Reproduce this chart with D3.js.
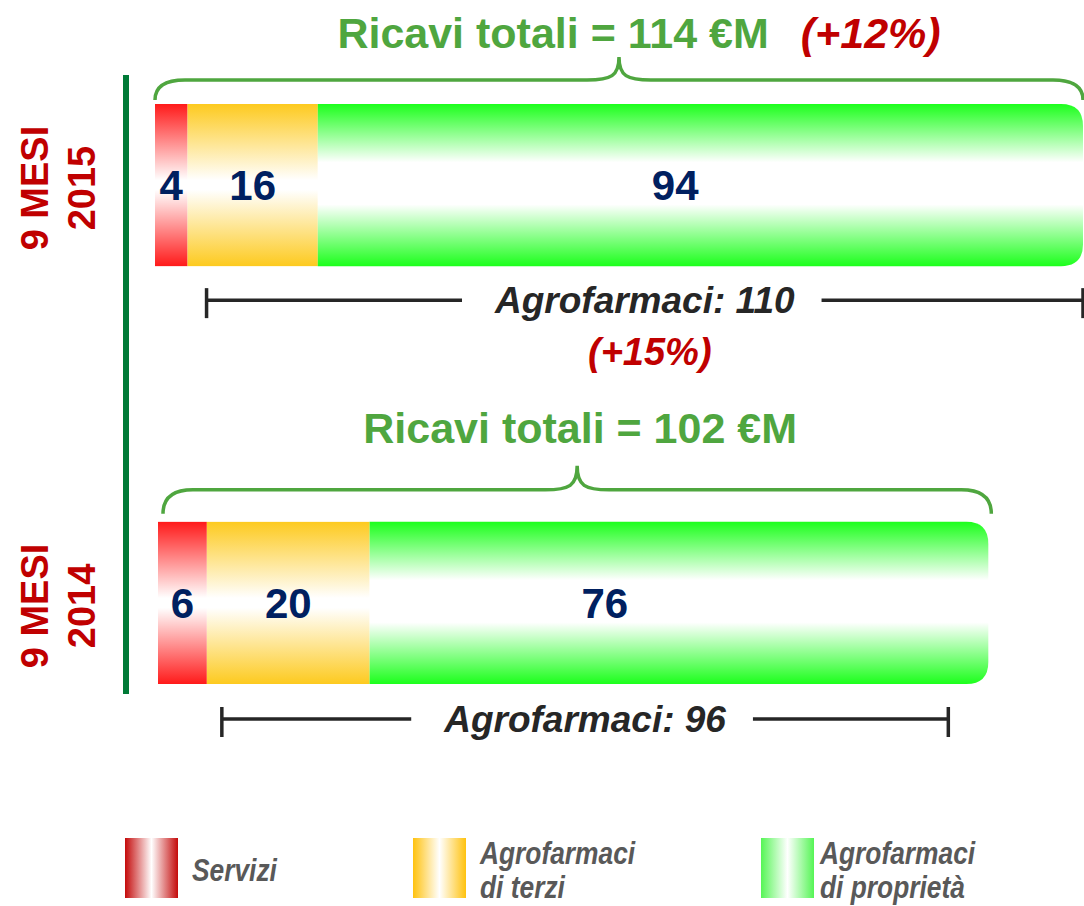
<!DOCTYPE html>
<html><head><meta charset="utf-8">
<script src="https://cdn.jsdelivr.net/npm/d3@7"></script>
<style>
body{margin:0;background:#fff}
svg{display:block}
text{font-family:"Liberation Sans",Arial,Helvetica,sans-serif;font-weight:bold}
</style>
</head><body>
<svg id="chart" width="1084" height="906"></svg>
<script>
// ---- data ----
const periods = ["2015", "2014"];
const periodLabel = "9 MESI";
const categories = ["Servizi", "Agrofarmaci di terzi", "Agrofarmaci di proprietà"];
const legendLines = [["Servizi"], ["Agrofarmaci", "di terzi"], ["Agrofarmaci", "di proprietà"]];
const servizi = [4, 6];
const agroTerzi = [16, 20];
const agroProprieta = [94, 76];
const totals = [114, 102];
const totalGrowth = ["(+12%)", ""];
const agroTotals = [110, 96];
const agroGrowth = ["(+15%)", ""];

// ---- setup ----
const svg = d3.select("#chart");
const GREEN_TXT = "#4fa63f", RED_TXT = "#c00000", NAVY = "#002060", DARK = "#262626";

const x = d3.scaleLinear().domain([0, d3.max(totals)]).range([0, 928]);
const y = d3.scaleBand().domain(periods).range([104, 684]).paddingInner(0.612);
const barLeft = [155, 158];
const lastLabelFrac = [0.467, 0.38];
const barColor = d3.scaleOrdinal().domain(categories).range(["#ff1a1a", "#fdca1f", "#1cff1c"]);
const legColor = d3.scaleOrdinal().domain(categories).range(["#c40a0a", "#ffc20e", "#55f555"]);

const defs = svg.append("defs");
categories.forEach((c, i) => {
  const whiteStops = i === 2 ? [0.36, 0.62] : [0.47, 0.53];
  const g = defs.append("linearGradient").attr("id", "bar" + i)
    .attr("x1", 0).attr("y1", 0).attr("x2", 0).attr("y2", 1);
  g.append("stop").attr("offset", 0).attr("stop-color", barColor(c));
  g.append("stop").attr("offset", whiteStops[0]).attr("stop-color", "#fff");
  g.append("stop").attr("offset", whiteStops[1]).attr("stop-color", "#fff");
  g.append("stop").attr("offset", 1).attr("stop-color", barColor(c));
  const h = defs.append("linearGradient").attr("id", "leg" + i)
    .attr("x1", 0).attr("y1", 0).attr("x2", 1).attr("y2", 0);
  h.append("stop").attr("offset", 0).attr("stop-color", legColor(c));
  h.append("stop").attr("offset", 0.5).attr("stop-color", "#fff");
  h.append("stop").attr("offset", 1).attr("stop-color", legColor(c));
});

const rows = periods.map((p, i) => ({
  period: p, idx: i,
  [categories[0]]: servizi[i],
  [categories[1]]: agroTerzi[i],
  [categories[2]]: agroProprieta[i]
}));
const stacked = d3.stack().keys(categories)(rows);

// vertical separator line
svg.append("line").attr("x1", 126).attr("x2", 126)
  .attr("y1", y(periods[0]) - 29).attr("y2", y(periods[1]) + y.bandwidth() + 10)
  .attr("stroke", "#007a37").attr("stroke-width", 6);

// ---- bars ----
const R = 22;
stacked.forEach((layer, k) => {
  layer.forEach(d => {
    const i = d.data.idx;
    const x0 = barLeft[i] + x(d[0]), x1 = barLeft[i] + x(d[1]);
    const y0 = y(d.data.period), h = y.bandwidth();
    if (k === categories.length - 1) {
      const p = d3.path();
      p.moveTo(x0, y0);
      p.lineTo(x1 - R, y0);
      p.quadraticCurveTo(x1, y0, x1, y0 + R);
      p.lineTo(x1, y0 + h - R);
      p.quadraticCurveTo(x1, y0 + h, x1 - R, y0 + h);
      p.lineTo(x0, y0 + h);
      p.closePath();
      svg.append("path").attr("d", p.toString()).attr("fill", `url(#bar${k})`);
    } else {
      svg.append("rect").attr("x", x0).attr("y", y0).attr("width", x1 - x0).attr("height", h)
        .attr("fill", `url(#bar${k})`);
    }
    const frac = k === categories.length - 1 ? lastLabelFrac[i] : 0.5;
    svg.append("text").attr("x", x0 + (x1 - x0) * frac).attr("y", y0 + h / 2 + 15)
      .attr("text-anchor", "middle").attr("fill", NAVY).attr("font-size", 42)
      .text(d[1] - d[0]);
  });
});

// ---- period labels (rotated) ----
periods.forEach((p, i) => {
  const cy = y(p) + y.bandwidth() / 2 + 3;
  [[periodLabel, 48], [p, 95]].forEach(([t, bx]) => {
    svg.append("text").attr("transform", `translate(${bx},${cy}) rotate(-90)`)
      .attr("text-anchor", "middle").attr("fill", RED_TXT).attr("font-size", 38).text(t);
  });
});

// ---- braces and totals ----
const braceCfg = [
  { gap: 4, line: 24, tip: 47, in0: 0, in1: 0, shift: 20 },
  { gap: 8, line: 32, tip: 56, in0: 5, in1: 3, shift: 3 }
];
periods.forEach((p, i) => {
  const c = braceCfg[i];
  const top = y(p);
  const bx0 = barLeft[i] + x(0) + c.in0, bx1 = barLeft[i] + x(totals[i]) + c.in1;
  const yE = top - c.gap, yL = top - c.line, yT = top - c.tip;
  const xm = (bx0 + bx1) / 2, r = 30, r2 = 32;
  const path = d3.path();
  path.moveTo(bx0, yE);
  path.quadraticCurveTo(bx0, yL, bx0 + r, yL);
  path.lineTo(xm - r2, yL);
  path.bezierCurveTo(xm - 8, yL, xm, yL - 4, xm, yT);
  path.bezierCurveTo(xm, yL - 4, xm + 8, yL, xm + r2, yL);
  path.lineTo(bx1 - r, yL);
  path.quadraticCurveTo(bx1, yL, bx1, yE);
  svg.append("path").attr("d", path.toString()).attr("fill", "none")
    .attr("stroke", GREEN_TXT).attr("stroke-width", 3.5);

  const ty = i === 0 ? top - 56 : top - 79;
  const title = svg.append("text").attr("y", ty).attr("fill", GREEN_TXT).attr("font-size", 43)
    .text(`Ricavi totali = ${totals[i]} €M`);
  const tw = title.node().getComputedTextLength();
  let pw = 0, pct = null;
  if (totalGrowth[i]) {
    pct = svg.append("text").attr("y", ty).attr("fill", RED_TXT).attr("font-size", 43)
      .attr("font-style", "italic").text(totalGrowth[i]);
    pw = pct.node().getComputedTextLength() + 32;
  }
  const start = xm + c.shift - (tw + pw) / 2;
  title.attr("x", start);
  if (pct) pct.attr("x", start + tw + 32);
});

// ---- agrofarmaci brackets ----
const agroCfg = [{ in0: 19, in1: 0, dy: 34 }, { in0: 15, in1: -40, dy: 35 }];
periods.forEach((p, i) => {
  const c = agroCfg[i];
  const ly = y(p) + y.bandwidth() + c.dy;
  const ax0 = barLeft[i] + x(servizi[i]) + c.in0;
  const ax1 = barLeft[i] + x(totals[i]) + c.in1;
  const cx = (ax0 + ax1) / 2;
  const t = svg.append("text").attr("x", cx).attr("y", ly + 13).attr("text-anchor", "middle")
    .attr("fill", DARK).attr("font-size", 37).attr("font-style", "italic")
    .text(`Agrofarmaci: ${agroTotals[i]}`);
  const w = t.node().getComputedTextLength();
  const g = svg.append("g").attr("stroke", DARK).attr("stroke-width", 3.5);
  g.append("line").attr("x1", ax0).attr("x2", cx - w / 2 - 33).attr("y1", ly).attr("y2", ly);
  g.append("line").attr("x1", cx + w / 2 + 27).attr("x2", ax1).attr("y1", ly).attr("y2", ly);
  g.append("line").attr("x1", ax0).attr("x2", ax0).attr("y1", ly - 12).attr("y2", ly + 18);
  g.append("line").attr("x1", ax1).attr("x2", ax1).attr("y1", ly - 12).attr("y2", ly + 18);
  if (agroGrowth[i]) {
    svg.append("text").attr("x", cx + 5).attr("y", ly + 65).attr("text-anchor", "middle")
      .attr("fill", RED_TXT).attr("font-size", 38).attr("font-style", "italic").text(agroGrowth[i]);
  }
});

// ---- legend ----
const legX = [125, 413, 761];
const legTextX = [192, 480, 820];
categories.forEach((c, i) => {
  svg.append("rect").attr("x", legX[i]).attr("y", 838).attr("width", 53).attr("height", 60)
    .attr("fill", `url(#leg${i})`);
  const lines = legendLines[i];
  lines.forEach((ln, j) => {
    const by = lines.length === 1 ? 881 : 864 + j * 34;
    svg.append("text").attr("transform", `translate(${legTextX[i]},${by}) scale(0.85,1)`)
      .attr("fill", "#595959").attr("font-size", 31).attr("font-style", "italic").text(ln);
  });
});
</script>
</body></html>
